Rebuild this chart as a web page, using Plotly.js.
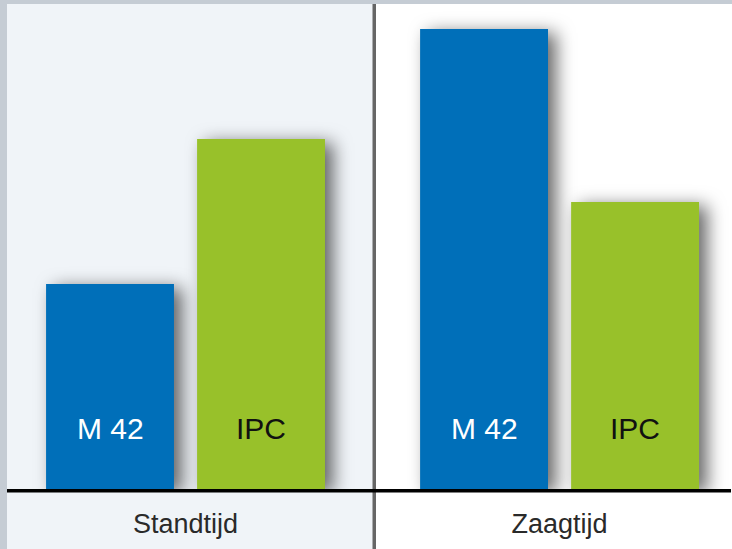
<!DOCTYPE html>
<html>
<head>
<meta charset="utf-8">
<script src="https://cdn.plot.ly/plotly-3.0.1.min.js"></script>
<style>
html,body{margin:0;padding:0;background:#fff;}
#chart{width:732px;height:549px;}
#chart g.trace.bars g.point path{filter:drop-shadow(8px 4px 9px rgba(0,0,0,0.6));}
</style>
</head>
<body>
<div id="chart"></div>
<script>
// Data
const categories = ["Standtijd", "Zaagtijd"];
const seriesNames = ["M 42", "IPC"];
const m42Values = [205, 460];
const ipcValues = [350, 287];
const seriesColors = ["#006fb9", "#98c12a"];
const labelColors = ["#ffffff", "#111111"];

const traces = [
  {type: "bar", name: seriesNames[0], x: categories, y: m42Values,
   marker: {color: seriesColors[0], line: {width: 0}}, hoverinfo: "skip"},
  {type: "bar", name: seriesNames[1], x: categories, y: ipcValues,
   marker: {color: seriesColors[1], line: {width: 0}}, hoverinfo: "skip"}
];

// bar labels near the bottom of each bar
const annotations = [];
categories.forEach((c) => {
  seriesNames.forEach((s, si) => {
    annotations.push({
      x: c, xref: "x", y: 0, yref: "y", text: s, showarrow: false,
      xshift: si === 0 ? -75.5 : 75.5, yshift: 61,
      font: {family: "Liberation Sans, Arial, sans-serif", size: 30, color: labelColors[si]}
    });
  });
});

const W = 732, H = 549;
const px = (v) => v / W;
const layout = {
  width: W, height: H,
  margin: {l: 0, r: 0, t: 4, b: 60, pad: 0},
  paper_bgcolor: "#ffffff",
  plot_bgcolor: "rgba(0,0,0,0)",
  showlegend: false,
  barmode: "group",
  bargap: 0.1925,
  bargroupgap: 0.153,
  xaxis: {
    type: "category",
    range: [-0.496, 1.461],
    showgrid: false, zeroline: false, showline: false, ticks: "",
    ticklabelstandoff: 16,
    tickfont: {family: "Liberation Sans, Arial, sans-serif", size: 27, color: "#2a2a2a"},
    fixedrange: true
  },
  yaxis: {range: [0, 485], visible: false, fixedrange: true},
  annotations: annotations,
  shapes: [
    // left panel background
    {type: "rect", xref: "paper", yref: "paper", x0: px(7), x1: px(373), y0: -60/485, y1: 1,
     fillcolor: "#f0f4f8", line: {width: 0}, layer: "below"},
    // top strip
    {type: "rect", xref: "paper", yref: "paper", x0: 0, x1: 1, y0: 1, y1: 1 + 4/485,
     fillcolor: "#c5ccd4", line: {width: 0}, layer: "below"},
    // left strip
    {type: "rect", xref: "paper", yref: "paper", x0: 0, x1: px(7), y0: -60/485, y1: 1 + 4/485,
     fillcolor: "#c5ccd4", line: {width: 0}, layer: "below"},
    // divider
    {type: "rect", xref: "paper", yref: "paper", x0: px(372.5), x1: px(376), y0: -60/485, y1: 1,
     fillcolor: "#666666", line: {width: 0}, layer: "above"},
    // baseline
    {type: "rect", xref: "paper", yref: "paper", x0: px(7), x1: px(731), y0: -3.5/485, y1: 0,
     fillcolor: "#000000", line: {width: 0}, layer: "above"}
  ]
};

Plotly.newPlot("chart", traces, layout, {displayModeBar: false, staticPlot: true});
</script>
</body>
</html>
